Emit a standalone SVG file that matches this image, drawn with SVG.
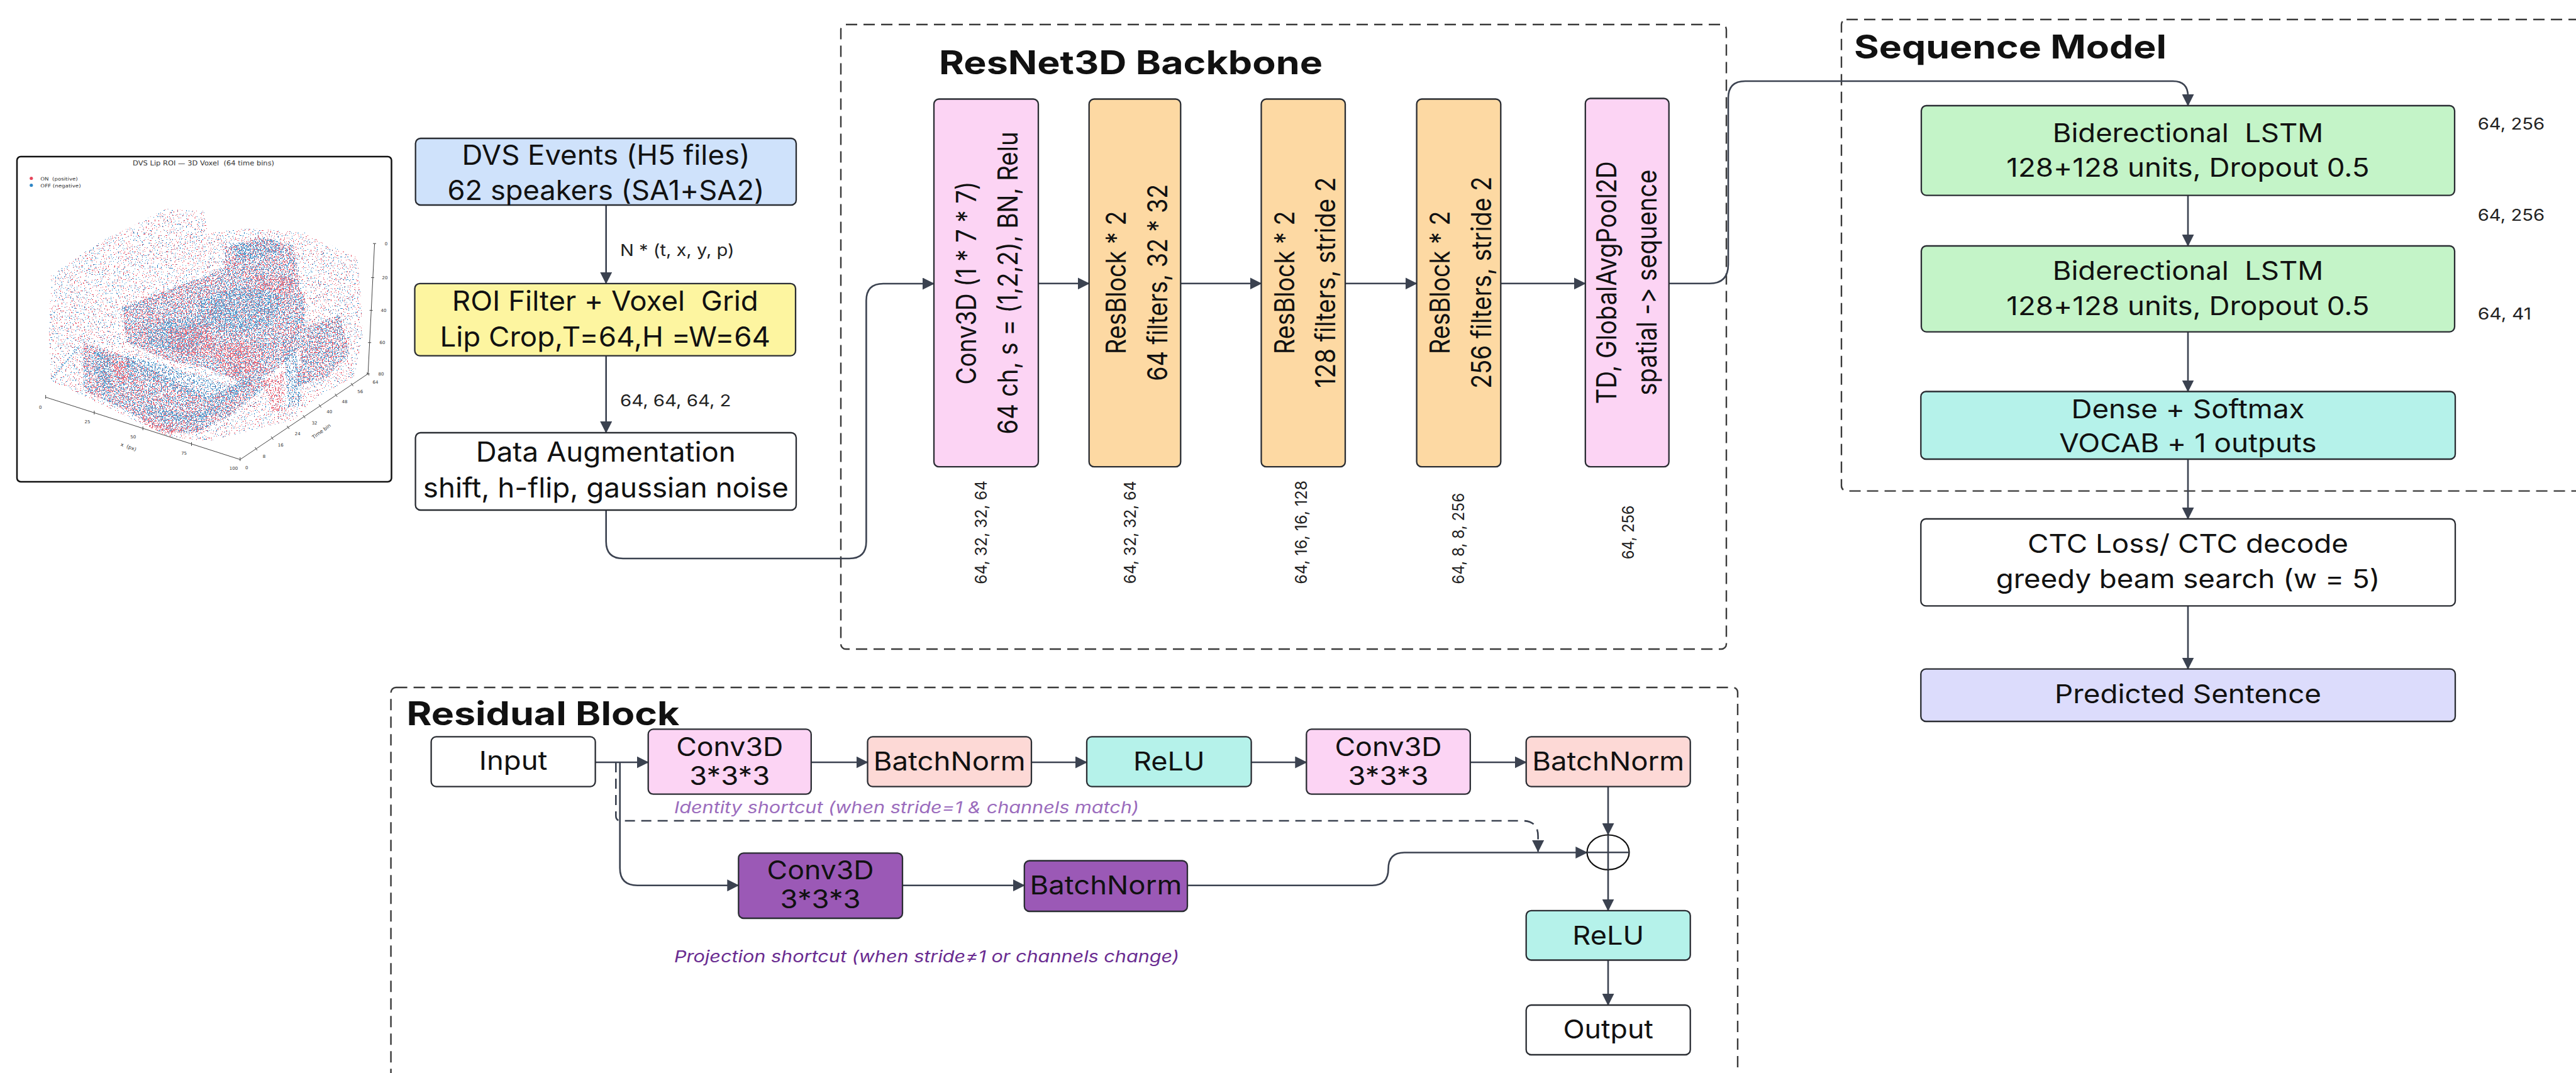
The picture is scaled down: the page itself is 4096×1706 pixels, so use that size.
<svg xmlns="http://www.w3.org/2000/svg" width="4096" height="1706" viewBox="0 0 4096 1706">
<defs>
<style>
text{white-space:pre;font-variant-ligatures:none;font-feature-settings:"calt" 0,"liga" 0}
.t{font-family:Inter,"Liberation Sans",Arial,sans-serif;fill:#111}
.c{text-anchor:middle}
.m{font-size:44px}
.v{font-size:44px}
.q{font-size:41px}
.r{font-size:41px}
.lbl{font-size:26px;fill:#222}
.dim{font-size:26px;fill:#222;text-anchor:middle}
.ttl{font-weight:700;font-size:52px}
.it{font-style:italic;font-size:26px}
.box{stroke:#2a2d33;stroke-width:2.3}
.frame{fill:none;stroke:#3a3a3a;stroke-width:2.4;stroke-dasharray:18 10}
.con{fill:none;stroke:#3b4250;stroke-width:2.6;marker-end:url(#ah)}
.dash{stroke-dasharray:16 10}
.pl{font-family:"DejaVu Sans","Liberation Sans",sans-serif;fill:#333}
.ax{stroke:#444;stroke-width:1;fill:none}
</style>
<marker id="ah" viewBox="0 0 19 19" refX="18" refY="9.5" markerWidth="19" markerHeight="19" markerUnits="userSpaceOnUse" orient="auto">
<path d="M0,0 L19,9.5 L0,19 Z" fill="#3b4250"/>
</marker>
<!-- speckle filters: thresholded noise turns filled regions into scattered event dots -->
<filter id="nSR" filterUnits="userSpaceOnUse" x="28" y="300" width="594" height="465" color-interpolation-filters="sRGB">
<feTurbulence type="fractalNoise" baseFrequency="0.5" numOctaves="1" seed="3"/>
<feColorMatrix type="matrix" values="0 0 0 0 0 0 0 0 0 0 0 0 0 0 0 1 0 0 0 0"/>
<feComponentTransfer><feFuncA type="discrete" tableValues="0 0 0 0 0 0 0 0 0 0 0 0 0 0 1 1 1 1 1 1"/></feComponentTransfer>
<feComposite in="SourceGraphic" operator="in"/>
</filter>
<filter id="nSB" filterUnits="userSpaceOnUse" x="28" y="300" width="594" height="465" color-interpolation-filters="sRGB">
<feTurbulence type="fractalNoise" baseFrequency="0.5" numOctaves="1" seed="8"/>
<feColorMatrix type="matrix" values="0 0 0 0 0 0 0 0 0 0 0 0 0 0 0 1 0 0 0 0"/>
<feComponentTransfer><feFuncA type="discrete" tableValues="0 0 0 0 0 0 0 0 0 0 0 0 0 0 1 1 1 1 1 1"/></feComponentTransfer>
<feComposite in="SourceGraphic" operator="in"/>
</filter>
<filter id="nMR" filterUnits="userSpaceOnUse" x="28" y="300" width="594" height="465" color-interpolation-filters="sRGB">
<feTurbulence type="fractalNoise" baseFrequency="0.5" numOctaves="1" seed="5"/>
<feColorMatrix type="matrix" values="0 0 0 0 0 0 0 0 0 0 0 0 0 0 0 1 0 0 0 0"/>
<feComponentTransfer><feFuncA type="discrete" tableValues="0 0 0 0 0 0 0 0 0 0 0 0 1 1 1 1 1 1 1 1"/></feComponentTransfer>
<feComposite in="SourceGraphic" operator="in"/>
</filter>
<filter id="nMB" filterUnits="userSpaceOnUse" x="28" y="300" width="594" height="465" color-interpolation-filters="sRGB">
<feTurbulence type="fractalNoise" baseFrequency="0.5" numOctaves="1" seed="9"/>
<feColorMatrix type="matrix" values="0 0 0 0 0 0 0 0 0 0 0 0 0 0 0 1 0 0 0 0"/>
<feComponentTransfer><feFuncA type="discrete" tableValues="0 0 0 0 0 0 0 0 0 0 0 0 1 1 1 1 1 1 1 1"/></feComponentTransfer>
<feComposite in="SourceGraphic" operator="in"/>
</filter>
<filter id="nDR" filterUnits="userSpaceOnUse" x="28" y="300" width="594" height="465" color-interpolation-filters="sRGB">
<feTurbulence type="fractalNoise" baseFrequency="0.5" numOctaves="1" seed="13"/>
<feColorMatrix type="matrix" values="0 0 0 0 0 0 0 0 0 0 0 0 0 0 0 1 0 0 0 0"/>
<feComponentTransfer><feFuncA type="discrete" tableValues="0 0 0 0 0 0 0 0 0 0 0 0 1 1 1 1 1 1 1 1"/></feComponentTransfer>
<feComposite in="SourceGraphic" operator="in"/>
</filter>
<filter id="nDB" filterUnits="userSpaceOnUse" x="28" y="300" width="594" height="465" color-interpolation-filters="sRGB">
<feTurbulence type="fractalNoise" baseFrequency="0.5" numOctaves="1" seed="17"/>
<feColorMatrix type="matrix" values="0 0 0 0 0 0 0 0 0 0 0 0 0 0 0 1 0 0 0 0"/>
<feComponentTransfer><feFuncA type="discrete" tableValues="0 0 0 0 0 0 0 0 0 0 0 0 1 1 1 1 1 1 1 1"/></feComponentTransfer>
<feComposite in="SourceGraphic" operator="in"/>
</filter>
<polygon id="cloud" points="81.3,438.2 159.9,383.5 211.2,359.6 262.5,332.2 324,335.7 330.8,369.8 399.2,363 484.7,369.8 570.1,410.9 576.9,530.5 563.3,598.8 501.7,633 467.6,667.2 399.2,684.3 330.8,701.4 269.3,694.5 211.2,667.2 139.4,633 81.3,605.7 77.9,530.5"/>
<g id="midzones">
<polygon points="194.1,489.5 262.5,462.1 330.8,438.2 382.1,410.9 433.4,427.9 484.7,469 484.7,547.6 433.4,592 382.1,609.1 330.8,585.2 262.5,571.5 201,544.2"/>
<polygon points="358.2,393.8 416.3,376.7 467.6,390.4 477.8,469 416.3,482.6 358.2,455.3"/>
<polygon points="132.6,544.2 194.1,564.7 262.5,598.8 330.8,633 365,615.9 416.3,592 426.6,612.5 365,660.4 313.8,687.7 262.5,687.7 201,653.5 132.6,619.4"/>
<polygon points="484.7,520 540,500 556,560 520,600 470,615"/>
</g>
</defs>

<rect width="4096" height="1706" fill="#fff"/>

<!-- voxel scatter plot -->
<g id="voxel-plot">
<rect x="27" y="249" width="595.5" height="517" rx="6" fill="#fff" stroke="#111" stroke-width="2.5"/>
<text class="pl" x="323.6" y="262.5" font-size="11" text-anchor="middle" textLength="225" lengthAdjust="spacingAndGlyphs">DVS Lip ROI — 3D Voxel  (64 time bins)</text>
<circle cx="49.8" cy="283.5" r="2.6" fill="#e6465b"/>
<circle cx="49.8" cy="294.5" r="2.6" fill="#2f86c6"/>
<text class="pl" x="64.3" y="286.6" font-size="7.5" textLength="59.4" lengthAdjust="spacingAndGlyphs">ON  (positive)</text>
<text class="pl" x="64.3" y="297.6" font-size="7.5" textLength="64.3" lengthAdjust="spacingAndGlyphs">OFF (negative)</text>
<g filter="url(#nSR)" fill="#e6465b"><use href="#cloud"/></g>
<g filter="url(#nSB)" fill="#2f86c6"><use href="#cloud"/></g>
<g filter="url(#nMR)" fill="#e6465b"><use href="#midzones"/></g>
<g filter="url(#nMB)" fill="#2f86c6"><use href="#midzones"/></g>
<g filter="url(#nDB)" fill="#2a7fbd">
<polygon points="313.8,479.2 382.1,455.3 450.5,469 433.4,516.8 365,530.5 313.8,516.8"/>
<polygon points="235.1,516.8 296.7,503.1 330.8,537.3 296.7,564.7 235.1,547.6"/>
<polygon points="201,564.7 279.6,585.2 365,612.5 399.2,598.8 399.2,615.9 347.9,643.3 279.6,619.4 201,585.2"/>
<polygon points="365,386.9 433.4,380.1 450.5,400.6 382.1,414.3"/>
<polygon points="228.3,639.9 296.7,660.4 347.9,639.9 365,646.7 313.8,674 235.1,660.4"/>
<polygon points="150,560 175,565 178,620 152,610"/>
<polygon points="452,560 470,548 478,640 458,648"/>
</g>
<g filter="url(#nDR)" fill="#e4445a">
<polygon points="399.2,438.2 467.6,441.6 467.6,469 416.3,462.1"/>
<polygon points="262.5,523.6 330.8,516.8 347.9,564.7 279.6,564.7"/>
<polygon points="330.8,547.6 399.2,544.2 416.3,585.2 365,598.8"/>
<polygon points="228.3,660.4 279.6,680.9 296.7,687.7 262.5,691.1 221.5,670.6"/>
<polygon points="416.3,605.7 450.5,592 453.9,653.5 433.4,653.5"/>
<polygon points="180,575 200,580 205,610 182,600"/>
</g>
<line x1="81.3" y1="602.3" x2="125.8" y2="551" stroke="#2f86c6" stroke-width="2.2" stroke-dasharray="1.5 2.5"/>
<!-- axes -->
<path class="ax" d="M72.6,631.5 L381.8,730.6 L585.2,594.3 L595.6,387.2"/>
<path class="ax" d="M72.6,628 v6 M149.9,653 v6 M227.2,678 v6 M304.5,703 v6 M381.8,727 v6 M405.5,711 l3.5,5 M431,694 l3.5,5 M456.4,677 l3.5,5 M481.8,660 l3.5,5 M507.2,643 l3.5,5 M532.7,626 l3.5,5 M558.1,609 l3.5,5 M583.5,592 l3.5,5 M593,387.2 h5 M590,441.4 h5 M587.6,493.4 h5 M585.2,544.7 h5 M582.8,594.3 h5"/>
<g class="pl" font-size="7" text-anchor="middle">
<text x="64.3" y="650">0</text><text x="139" y="673">25</text><text x="211.7" y="696.6">50</text><text x="292.6" y="722.5">75</text><text x="371.5" y="747.2">100</text>
<text x="392.2" y="745.5">0</text><text x="420" y="727.8">8</text><text x="446.2" y="710">16</text><text x="473.2" y="692.4">24</text><text x="500.1" y="674.7">32</text><text x="523.8" y="657">40</text><text x="547.9" y="641">48</text><text x="572.8" y="625">56</text><text x="597" y="610.3">64</text>
<text x="614" y="389.7">0</text><text x="612" y="443.9">20</text><text x="610" y="495.9">40</text><text x="608" y="547.2">60</text><text x="606" y="596.8">80</text>
<text transform="translate(203.4 713) rotate(19)" font-size="8">x  (px)</text>
<text transform="translate(512.6 688) rotate(-36)" font-size="8">Time bin</text>
</g>
</g>

<!-- group frames -->
<g id="frames">
<rect class="frame" x="1337" y="39" width="1408" height="993" rx="8"/>
<rect class="frame" x="2928" y="31" width="1300" height="749.6" rx="8"/>
<rect class="frame" x="621.6" y="1093" width="2141.4" height="700" rx="8"/>
<text class="t ttl" x="1493" y="118" textLength="610" lengthAdjust="spacingAndGlyphs">ResNet3D Backbone</text>
<text class="t ttl" x="2948" y="93" font-size="49" textLength="497" lengthAdjust="spacingAndGlyphs">Sequence Model</text>
<text class="t ttl" x="646.4" y="1152.5" font-size="49" textLength="434" lengthAdjust="spacingAndGlyphs">Residual Block</text>
</g>

<!-- connectors -->
<g id="connectors">
<path class="con" d="M963.7,326 L963.7,450.8"/>
<path class="con" d="M963.7,565.6 L963.7,688"/>
<path class="con" d="M963.7,811 L963.7,861 Q963.7,888 990.7,888 L1350.4,888 Q1377.4,888 1377.4,861 L1377.4,478 Q1377.4,451 1404.4,451 L1485,451"/>
<path class="con" d="M1651,450.8 L1731.7,450.8"/>
<path class="con" d="M1877.3,450.8 L2005.5,450.8"/>
<path class="con" d="M2139,450.8 L2252.6,450.8"/>
<path class="con" d="M2386.3,450.8 L2520.8,450.8"/>
<path class="con" d="M2653.7,450.8 L2718,450.8 Q2748,450.8 2748,420.8 L2748,156 Q2748,129 2775,129 L3455,129 Q3479,129 3479,153 L3479,168"/>
<path class="con" d="M3479,310.6 L3479,391"/>
<path class="con" d="M3479,527.6 L3479,622.5"/>
<path class="con" d="M3479,730 L3479,825"/>
<path class="con" d="M3479,963.4 L3479,1063.6"/>
<path class="con" d="M946.6,1212 L1030.7,1212"/>
<path class="con" d="M1289.8,1212 L1379.5,1212"/>
<path class="con" d="M1640,1212 L1728,1212"/>
<path class="con" d="M1989.6,1212 L2077.3,1212"/>
<path class="con" d="M2337.8,1212 L2426.7,1212"/>
<path class="con" d="M2557,1250.6 L2557,1327"/>
<path class="con" d="M2557,1382.7 L2557,1447.8"/>
<path class="con" d="M2557,1526.5 L2557,1598"/>
<path class="con dash" d="M979.3,1212 L979.3,1297 Q979.3,1305 987.3,1305 L2421,1305 Q2445.6,1305 2445.6,1329.6 L2445.6,1354"/>
<path class="con" d="M985.7,1212 L985.7,1380 Q985.7,1407.7 1013.4,1407.7 L1174.3,1407.7"/>
<path class="con" d="M1435,1407.7 L1628.8,1407.7"/>
<path class="con" d="M1888,1407.7 L2182,1407.7 Q2207.5,1407.7 2207.5,1381.6 Q2207.5,1355.5 2233,1355.5 L2523.3,1355.5"/>
<text class="t lbl" x="986" y="406.7" textLength="181.6" lengthAdjust="spacingAndGlyphs">N * (t, x, y, p)</text>
<text class="t lbl" x="986" y="646" textLength="176.5" lengthAdjust="spacingAndGlyphs">64, 64, 64, 2</text>
<text class="t lbl" x="3939.7" y="206.3" font-size="23" textLength="106.6" lengthAdjust="spacingAndGlyphs">64, 256</text>
<text class="t lbl" x="3939.7" y="351" font-size="23" textLength="106.6" lengthAdjust="spacingAndGlyphs">64, 256</text>
<text class="t lbl" x="3939.7" y="507.5" font-size="23" textLength="85.3" lengthAdjust="spacingAndGlyphs">64, 41</text>
<text class="t it" x="1072" y="1293" style="fill:#9b6cbd" textLength="739" lengthAdjust="spacingAndGlyphs">Identity shortcut (when stride=1 &amp; channels match)</text>
<text class="t it" x="1072" y="1529.8" style="fill:#6a2c91" textLength="803" lengthAdjust="spacingAndGlyphs">Projection shortcut (when stride≠1 or channels change)</text>
<g class="t dim">
<text transform="translate(1568.5 846.4) rotate(-90)" textLength="164.8" lengthAdjust="spacingAndGlyphs">64, 32, 32, 64</text>
<text transform="translate(1806 846.4) rotate(-90)" textLength="163.5" lengthAdjust="spacingAndGlyphs">64, 32, 32, 64</text>
<text transform="translate(2078 846.4) rotate(-90)" textLength="164.8" lengthAdjust="spacingAndGlyphs">64, 16, 16, 128</text>
<text transform="translate(2328 856.3) rotate(-90)" textLength="145" lengthAdjust="spacingAndGlyphs">64, 8, 8, 256</text>
<text transform="translate(2597.6 846.4) rotate(-90)" textLength="85.7" lengthAdjust="spacingAndGlyphs">64, 256</text>
</g>
</g>

<!-- input pipeline -->
<g id="dvs-events">
<rect class="box" x="660.7" y="220" width="605.3" height="106" rx="8" fill="#cfe2fb"/>
<text class="t m c" x="963.5" y="261.7" textLength="458" lengthAdjust="spacingAndGlyphs">DVS Events (H5 files)</text>
<text class="t m c" x="963.5" y="317.7" textLength="504" lengthAdjust="spacingAndGlyphs">62 speakers (SA1+SA2)</text>
</g>
<g id="roi-voxel">
<rect class="box" x="659.5" y="450.8" width="605.5" height="114.8" rx="8" fill="#fdf5a0"/>
<text class="t m c" x="962.3" y="493.8" textLength="487" lengthAdjust="spacingAndGlyphs">ROI Filter + Voxel  Grid</text>
<text class="t m c" x="962.3" y="550.9" textLength="525.5" lengthAdjust="spacingAndGlyphs">Lip Crop,T=64,H =W=64</text>
</g>
<g id="augmentation">
<rect class="box" x="660.6" y="688" width="605.4" height="123" rx="8" fill="#fff"/>
<text class="t m c" x="963.3" y="734" textLength="413" lengthAdjust="spacingAndGlyphs">Data Augmentation</text>
<text class="t m c" x="963.3" y="791" textLength="581" lengthAdjust="spacingAndGlyphs">shift, h-flip, gaussian noise</text>
</g>

<!-- ResNet3D backbone -->
<g id="stem-conv3d">
<rect class="box" x="1485" y="157.5" width="166" height="584.7" rx="8" fill="#fcd4f4"/>
<text class="t v c" transform="translate(1552.3 449.9) rotate(-90)" textLength="323" lengthAdjust="spacingAndGlyphs">Conv3D (1 * 7 * 7)</text>
<text class="t v c" transform="translate(1618.2 449.9) rotate(-90)" textLength="481" lengthAdjust="spacingAndGlyphs">64 ch, s = (1,2,2), BN, Relu</text>
</g>
<g id="resblock-64">
<rect class="box" x="1731.7" y="157.5" width="145.6" height="584.7" rx="8" fill="#fdd9a3"/>
<text class="t v c" transform="translate(1790.3 449.3) rotate(-90)" textLength="227.5" lengthAdjust="spacingAndGlyphs">ResBlock * 2</text>
<text class="t v c" transform="translate(1856.2 449.3) rotate(-90)" textLength="313" lengthAdjust="spacingAndGlyphs">64 filters, 32 * 32</text>
</g>
<g id="resblock-128">
<rect class="box" x="2005.5" y="157.5" width="133.5" height="584.7" rx="8" fill="#fdd9a3"/>
<text class="t v c" transform="translate(2057.6 449.3) rotate(-90)" textLength="227.5" lengthAdjust="spacingAndGlyphs">ResBlock * 2</text>
<text class="t v c" transform="translate(2122.6 449.3) rotate(-90)" textLength="335" lengthAdjust="spacingAndGlyphs">128 filters, stride 2</text>
</g>
<g id="resblock-256">
<rect class="box" x="2252.6" y="157.5" width="133.7" height="584.7" rx="8" fill="#fdd9a3"/>
<text class="t v c" transform="translate(2304.7 449.3) rotate(-90)" textLength="227.5" lengthAdjust="spacingAndGlyphs">ResBlock * 2</text>
<text class="t v c" transform="translate(2370.7 449.3) rotate(-90)" textLength="337" lengthAdjust="spacingAndGlyphs">256 filters, stride 2</text>
</g>
<g id="global-pool">
<rect class="box" x="2520.8" y="156.5" width="132.9" height="585.7" rx="8" fill="#fcd4f4"/>
<text class="t v c" transform="translate(2570.3 449.3) rotate(-90)" textLength="386" lengthAdjust="spacingAndGlyphs">TD, GlobalAvgPool2D</text>
<text class="t v c" transform="translate(2634.3 449.3) rotate(-90)" textLength="359" lengthAdjust="spacingAndGlyphs">spatial -&gt; sequence</text>
</g>

<!-- sequence model -->
<g id="bilstm-1">
<rect class="box" x="3055" y="168" width="848" height="142.6" rx="8" fill="#c4f4c8"/>
<text class="t q c" x="3479" y="225.6" textLength="430.6" lengthAdjust="spacingAndGlyphs">Biderectional  LSTM</text>
<text class="t q c" x="3479" y="280.6" textLength="577.3" lengthAdjust="spacingAndGlyphs">128+128 units, Dropout 0.5</text>
</g>
<g id="bilstm-2">
<rect class="box" x="3055" y="391" width="848" height="136.6" rx="8" fill="#c4f4c8"/>
<text class="t q c" x="3479" y="445" textLength="430.6" lengthAdjust="spacingAndGlyphs">Biderectional  LSTM</text>
<text class="t q c" x="3479" y="500.7" textLength="577.3" lengthAdjust="spacingAndGlyphs">128+128 units, Dropout 0.5</text>
</g>
<g id="dense-softmax">
<rect class="box" x="3054.3" y="622.5" width="849.7" height="107.5" rx="8" fill="#b5f2ea"/>
<text class="t q c" x="3479" y="664.5" textLength="371" lengthAdjust="spacingAndGlyphs">Dense + Softmax</text>
<text class="t q c" x="3479" y="719" textLength="409.4" lengthAdjust="spacingAndGlyphs">VOCAB + 1 outputs</text>
</g>
<g id="ctc">
<rect class="box" x="3054.3" y="825" width="849.7" height="138.4" rx="8" fill="#fff"/>
<text class="t q c" x="3479" y="879" textLength="510" lengthAdjust="spacingAndGlyphs">CTC Loss/ CTC decode</text>
<text class="t q c" x="3479" y="935" textLength="610.6" lengthAdjust="spacingAndGlyphs">greedy beam search (w = 5)</text>
</g>
<g id="predicted-sentence">
<rect class="box" x="3054.3" y="1063.6" width="849.7" height="83.4" rx="8" fill="#dcdcfc"/>
<text class="t q c" x="3479" y="1118" textLength="424" lengthAdjust="spacingAndGlyphs">Predicted Sentence</text>
</g>

<!-- residual block detail -->
<g id="rb-input">
<rect class="box" x="685.6" y="1171.4" width="261" height="79.2" rx="8" fill="#fff"/>
<text class="t r c" x="816.1" y="1224" textLength="108.5" lengthAdjust="spacingAndGlyphs">Input</text>
</g>
<g id="rb-conv-a">
<rect class="box" x="1030.7" y="1159.4" width="259.1" height="103.3" rx="8" fill="#fcd4f4"/>
<text class="t r c" x="1160.2" y="1201.8" textLength="170" lengthAdjust="spacingAndGlyphs">Conv3D</text>
<text class="t r c" x="1160.2" y="1248" textLength="128" lengthAdjust="spacingAndGlyphs">3*3*3</text>
</g>
<g id="rb-bn-a">
<rect class="box" x="1379.5" y="1171.4" width="260.5" height="79.2" rx="8" fill="#fdd9d6"/>
<text class="t r c" x="1509.7" y="1225" textLength="241.8" lengthAdjust="spacingAndGlyphs">BatchNorm</text>
</g>
<g id="rb-relu-a">
<rect class="box" x="1728" y="1171.4" width="261.6" height="79.2" rx="8" fill="#b5f2ea"/>
<text class="t r c" x="1858.8" y="1225" textLength="113.7" lengthAdjust="spacingAndGlyphs">ReLU</text>
</g>
<g id="rb-conv-b">
<rect class="box" x="2077.3" y="1159.4" width="260.5" height="103.3" rx="8" fill="#fcd4f4"/>
<text class="t r c" x="2207.5" y="1201.8" textLength="170" lengthAdjust="spacingAndGlyphs">Conv3D</text>
<text class="t r c" x="2207.5" y="1248" textLength="128" lengthAdjust="spacingAndGlyphs">3*3*3</text>
</g>
<g id="rb-bn-b">
<rect class="box" x="2426.7" y="1171.4" width="261" height="79.2" rx="8" fill="#fdd9d6"/>
<text class="t r c" x="2557.2" y="1225" textLength="241.8" lengthAdjust="spacingAndGlyphs">BatchNorm</text>
</g>
<g id="rb-add">
<ellipse cx="2557" cy="1355.1" rx="33.5" ry="27.6" fill="#fff" stroke="#111" stroke-width="2.2"/>
<path d="M2523.5,1355.3 H2590.5 M2557,1327.5 V1382.7" stroke="#3b4250" stroke-width="2.6" fill="none"/>
</g>
<g id="rb-relu-b">
<rect class="box" x="2426.7" y="1447.8" width="261" height="78.7" rx="8" fill="#b5f2ea"/>
<text class="t r c" x="2557.2" y="1501.5" textLength="113.7" lengthAdjust="spacingAndGlyphs">ReLU</text>
</g>
<g id="rb-output">
<rect class="box" x="2426.7" y="1598" width="261" height="79" rx="8" fill="#fff"/>
<text class="t r c" x="2557.2" y="1651" textLength="143.5" lengthAdjust="spacingAndGlyphs">Output</text>
</g>
<g id="rb-proj-conv">
<rect class="box" x="1174.3" y="1356.3" width="260.7" height="103.7" rx="8" fill="#9b59b6"/>
<text class="t r c" x="1304.6" y="1398" textLength="170" lengthAdjust="spacingAndGlyphs">Conv3D</text>
<text class="t r c" x="1304.6" y="1443.8" textLength="128" lengthAdjust="spacingAndGlyphs">3*3*3</text>
</g>
<g id="rb-proj-bn">
<rect class="box" x="1628.8" y="1368.5" width="259.2" height="80.5" rx="8" fill="#9b59b6"/>
<text class="t r c" x="1758.4" y="1422" textLength="241.8" lengthAdjust="spacingAndGlyphs">BatchNorm</text>
</g>
</svg>
